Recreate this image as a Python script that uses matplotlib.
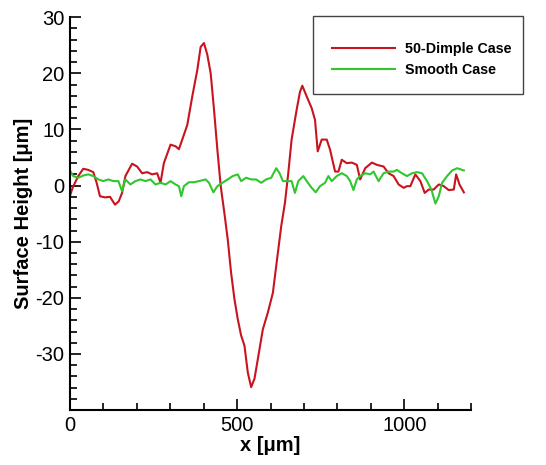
import numpy as np
import matplotlib.pyplot as plt
from matplotlib.patches import Rectangle
from matplotlib.ticker import MultipleLocator

# surface profiles (x in um, height in um)
dimple_x = [0, 8, 25, 40, 55, 70, 80, 90, 105, 120, 135, 146, 156, 166, 186, 201, 216, 231, 246, 261,
            271, 281, 301, 316, 326, 336, 351, 366, 381, 391, 401, 411, 421, 431, 441, 451, 462, 472, 482, 492,
            502, 512, 522, 532, 542, 552, 562, 577, 592, 607, 617, 632, 643, 653, 663, 678, 688, 695, 708, 723,
            733, 741, 753, 768, 778, 793, 803, 813, 828, 843, 858, 868, 883, 903, 918, 938, 953, 968, 983, 998,
            1008, 1018, 1033, 1048, 1061, 1073, 1088, 1103, 1118, 1133, 1148, 1155, 1165, 1178]
dimple_y = [-1.9, -0.4, 1.7, 3.0, 2.8, 2.4, 0.5, -1.9, -2.1, -2.0, -3.4, -2.8, -1.3, 1.7, 3.9, 3.4, 2.2, 2.4, 2.0, 2.2,
            0.5, 4.0, 7.3, 7.0, 6.5, 8.2, 10.8, 15.9, 20.6, 24.7, 25.4, 23.3, 20.0, 13.5, 6.4, -0.1, -4.9, -9.6, -15.5, -20.2,
            -23.8, -26.7, -28.5, -33.3, -35.9, -34.4, -30.9, -25.6, -22.6, -19.1, -14.3, -7.2, -3.1, 2.2, 8.2, 13.5, 16.7, 17.8, 15.9, 13.8,
            11.7, 6.1, 8.2, 8.2, 6.4, 2.5, 2.5, 4.6, 4.0, 4.1, 3.7, 1.1, 3.1, 4.1, 3.7, 3.4, 2.2, 1.7, 0.2, -0.4,
            -0.1, -0.1, 2.0, 0.8, -1.3, -0.7, -0.7, 0.2, -0.1, -0.8, -0.7, 2.0, 0.2, -1.2]

smooth_x = [0, 10, 25, 40, 55, 70, 85, 100, 115, 130, 145, 156, 166, 181, 196, 211, 226, 241, 256, 271,
            286, 301, 316, 326, 333, 341, 356, 371, 386, 406, 416, 429, 441, 456, 472, 487, 502, 512, 527, 542,
            557, 572, 587, 602, 617, 627, 637, 653, 663, 673, 683, 698, 708, 723, 735, 748, 763, 773, 783, 798,
            813, 828, 838, 848, 858, 868, 883, 898, 908, 923, 938, 953, 968, 978, 993, 1008, 1023, 1038, 1053, 1068,
            1081, 1093, 1103, 1113, 1128, 1143, 1158, 1178]
smooth_y = [2.7, 1.7, 1.4, 1.8, 2.0, 1.7, 1.1, 0.8, 1.1, 0.8, 0.8, -1.0, 1.1, 0.2, 0.8, 1.1, 0.8, 1.1, 0.2, 0.5,
            0.2, 0.8, 0.2, -0.1, -1.9, -0.1, 0.6, 0.6, 0.8, 1.1, 0.5, -1.2, -0.1, 0.5, 1.1, 1.7, 2.0, 0.8, 1.4, 1.1,
            1.1, 0.5, 1.1, 1.4, 3.1, 2.2, 0.8, 0.8, 0.8, -1.3, 0.8, 1.7, 0.8, -0.4, -1.2, -0.1, 0.5, 1.7, 0.8, 1.7,
            2.2, 1.7, 0.8, -0.8, 1.1, 1.7, 2.2, 2.0, 2.5, 0.8, 2.2, 2.5, 2.5, 2.8, 2.2, 1.7, 2.2, 2.4, 2.2, 0.8,
            -0.7, -3.2, -1.9, 0.5, 1.7, 2.7, 3.1, 2.7]

plt.rcParams['font.family'] = ['Liberation Sans', 'DejaVu Sans']
plt.rcParams['axes.unicode_minus'] = False

fig = plt.figure(figsize=(5.46, 4.65), dpi=100)
ax = fig.add_axes([0.128, 0.118, 0.735, 0.845])

l1, = ax.plot(dimple_x, dimple_y, color='#c8141e', lw=1.5, label='50-Dimple Case')
l2, = ax.plot(smooth_x, smooth_y, color='#2ec82e', lw=1.5, label='Smooth Case')

ax.set_xlim(0, 1200)
ax.set_ylim(-40, 30)
ax.xaxis.set_major_locator(MultipleLocator(500))
ax.xaxis.set_minor_locator(MultipleLocator(100))
ax.yaxis.set_minor_locator(MultipleLocator(2))
ax.set_yticks([30, 20, 10, 0, -10, -20, -30])
ax.tick_params(which='both', direction='in', width=1.2, labelsize=14.5)
ax.tick_params(which='major', length=8, pad=4)
ax.tick_params(which='minor', length=5)
ax.spines['top'].set_visible(False)
ax.spines['right'].set_visible(False)
ax.spines['left'].set_linewidth(1.5)
ax.spines['bottom'].set_linewidth(1.5)

ax.set_xlabel('x [\u03bcm]', fontsize=14.5, fontweight='bold', labelpad=1)
ax.set_ylabel('Surface Height [\u03bcm]', fontsize=14.5, fontweight='bold', labelpad=2)

# legend box sticks out past the plot on the right
fig.patches.append(Rectangle((0.573, 0.798), 0.385, 0.168, transform=fig.transFigure,
                             fill=False, edgecolor='#444444', lw=1.0))
fig.legend(handles=[l1, l2], loc='upper left', bbox_to_anchor=(0.584, 0.937), frameon=False,
           handlelength=4.4, handletextpad=0.7, labelspacing=0.45,
           prop={'weight': 'bold', 'size': 10.3})

fig.savefig('out.png', dpi=100)
